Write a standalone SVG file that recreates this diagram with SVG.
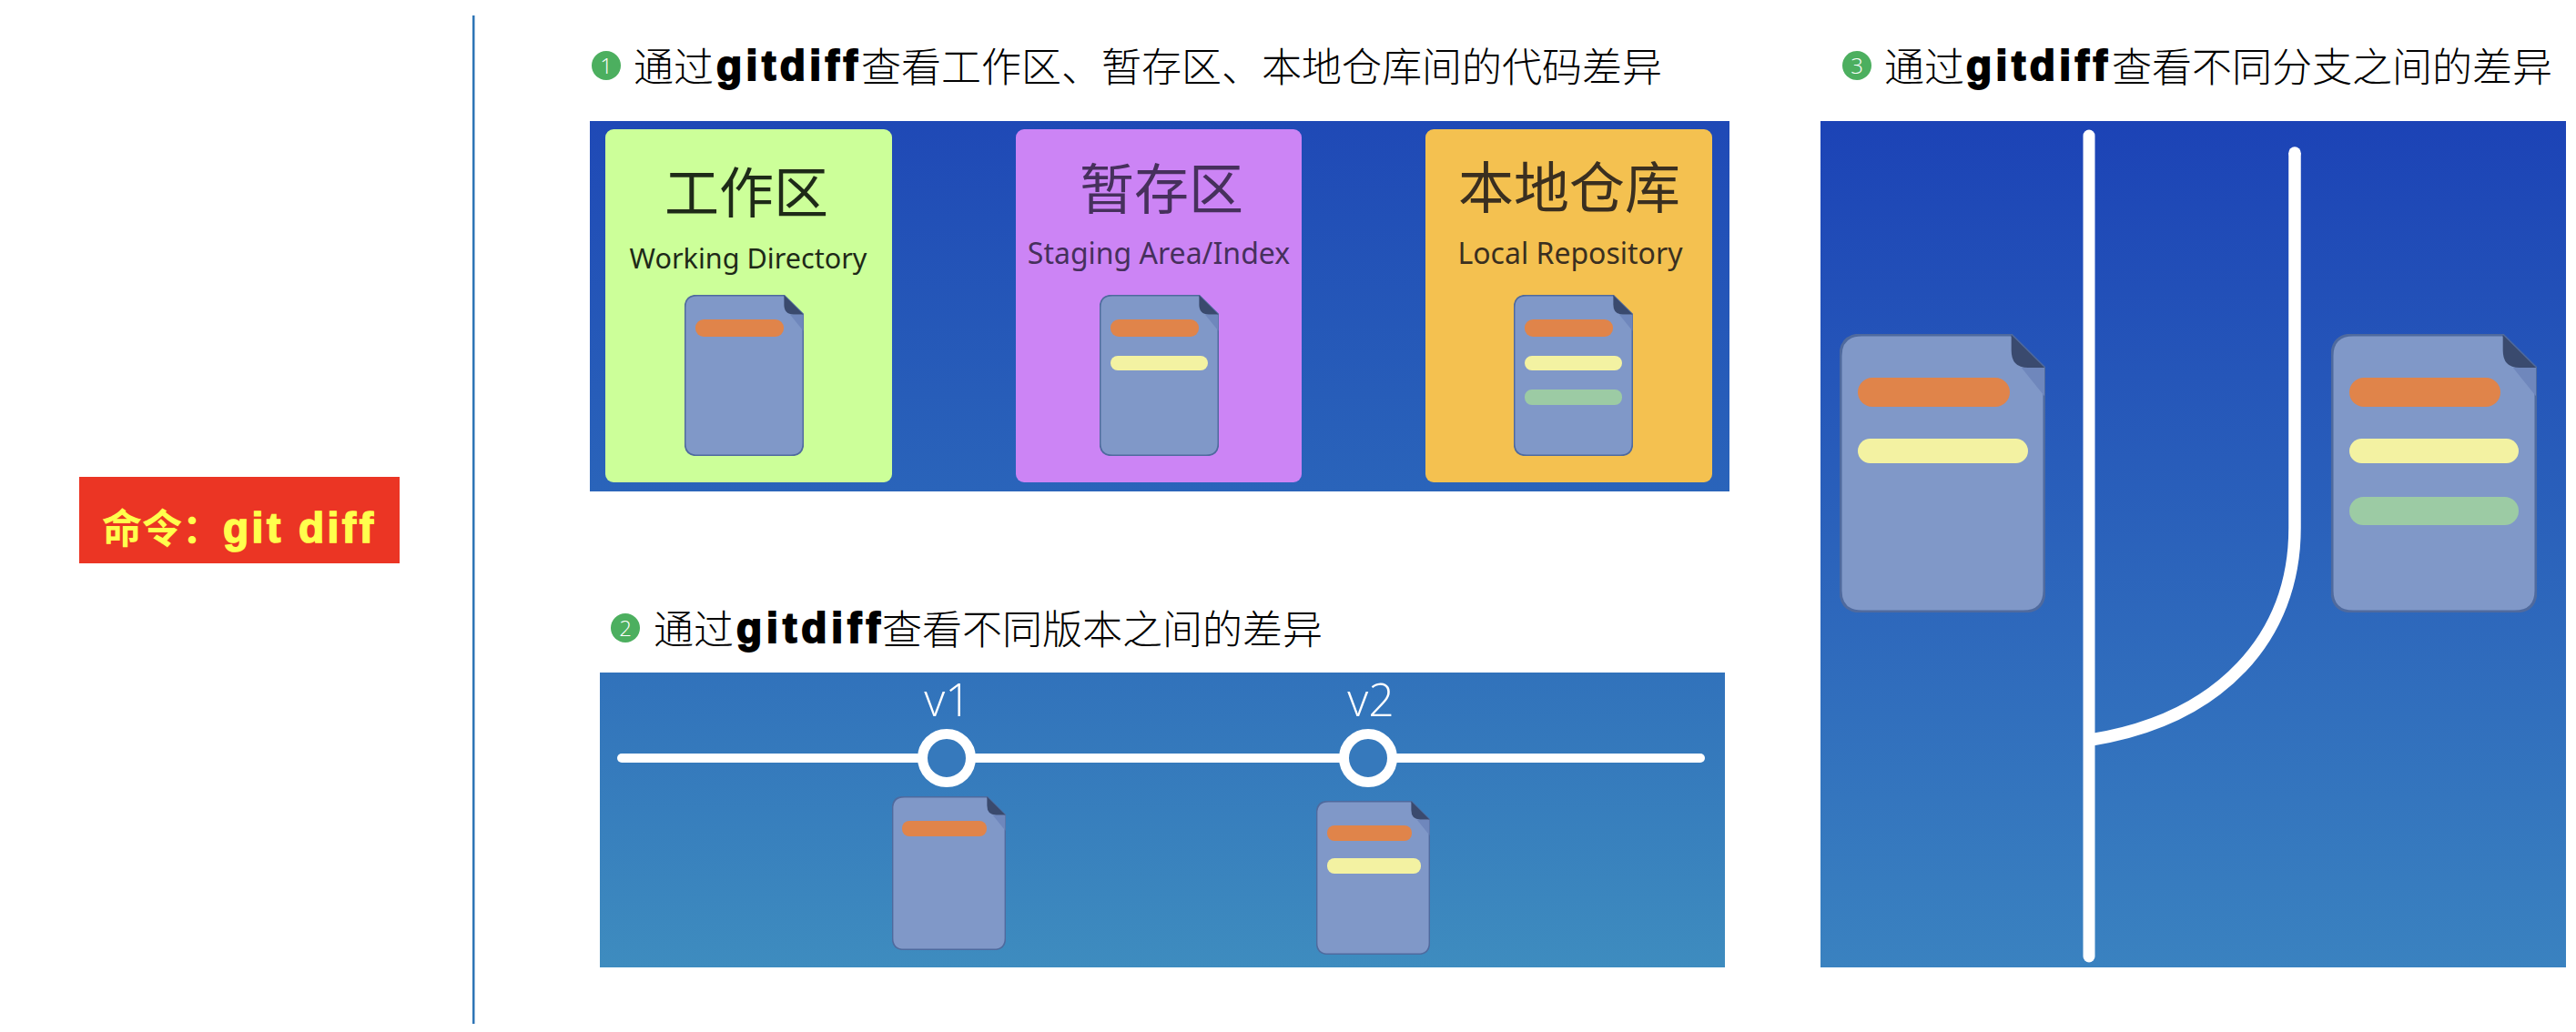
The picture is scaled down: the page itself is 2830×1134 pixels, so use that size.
<svg xmlns="http://www.w3.org/2000/svg" xmlns:xlink="http://www.w3.org/1999/xlink" width="2830" height="1134" viewBox="0 0 2830 1134">
<style>
.h{font-family:"Noto Sans CJK SC","Noto Sans",sans-serif;font-size:44px;font-weight:300;fill:#000}
.g{font-family:"Liberation Sans",sans-serif;font-size:46px;font-weight:700;letter-spacing:4.500px;stroke:#000;stroke-width:2px}
.n{font-family:"Open Sans","Noto Sans",sans-serif;font-size:24px;font-weight:300;fill:#fff;text-anchor:middle}
.dot{fill:#4CAF5F}
.t{font-family:"Noto Sans CJK SC","Noto Sans",sans-serif;font-size:60px;text-anchor:middle}
.s{font-family:"Noto Sans","Open Sans",sans-serif;font-size:32px;text-anchor:middle}
.v{font-family:"Open Sans","Noto Sans",sans-serif;font-size:50px;font-weight:300;fill:#fff;text-anchor:middle}
.o{fill:#E0844A}.y{fill:#F3F2A2}.k{fill:#9CCBA4}
.w{fill:none;stroke:#fff;stroke-linecap:round}
</style>
<defs>
<linearGradient id="g1" x1="0" y1="0" x2="0" y2="1"><stop offset="0" stop-color="#1F49B6"/><stop offset="1" stop-color="#2A64BA"/></linearGradient>
<linearGradient id="g2" x1="0" y1="0" x2="0" y2="1"><stop offset="0" stop-color="#3172BB"/><stop offset="1" stop-color="#3E8CBF"/></linearGradient>
<linearGradient id="g3" x1="0" y1="0" x2="0" y2="1"><stop offset="0" stop-color="#1C43B6"/><stop offset="1" stop-color="#3A82C0"/></linearGradient>
<symbol id="doc" viewBox="0 0 224 305" preserveAspectRatio="none">
<path d="M24 1H187L223 37V281Q223 304 200 304H24Q1 304 1 281V24Q1 1 24 1Z" fill="#8098C8" stroke="#4F6A9E" stroke-width="3"/>
<path d="M198 37H223V68Z" fill="#6F87BC"/>
<path d="M187 1L223 37H205Q187 37 187 18Z" fill="#3A4A6E"/>
</symbol>
</defs>
<rect width="2830" height="1134" fill="#fff"/>
<rect id="divider" x="519" y="17" width="2.5" height="1108" fill="#2E75B6"/>
<g id="command">
<rect x="87" y="524" width="352" height="95" fill="#EB3524"/>
<text x="112" y="597" font-family="'Noto Sans CJK SC',sans-serif" font-size="44" font-weight="700" fill="#FFFF4D">命令：</text>
<text x="245" y="596" font-family="'Liberation Sans',sans-serif" font-size="46" font-weight="700" letter-spacing="3.500" fill="#FFFF4D" stroke="#FFFF4D" stroke-width="1.600">git diff</text>
</g>
<g id="heading-1">
<circle class="dot" cx="666" cy="72" r="16"/><text class="n" x="666" y="81">1</text>
<text class="h" y="90"><tspan x="696">通过</tspan><tspan class="g" x="787" y="88">gitdiff</tspan><tspan x="946" y="90">查看工作区、暂存区、本地仓库间的代码差异</tspan></text>
</g>
<g id="panel-1">
<rect x="648" y="133" width="1252" height="407" fill="url(#g1)"/>
<g id="working-directory">
<rect x="665" y="142" width="315" height="388" rx="9" fill="#CCFF99"/>
<text class="t" x="820" y="234" fill="#1E2A18">工作区</text>
<text class="s" x="822" y="295" fill="#1E2A18" style="font-size:30.600px">Working Directory</text>
<use xlink:href="#doc" href="#doc" x="752" y="324" width="131" height="177"/>
<rect class="o" x="764" y="351" width="97" height="19" rx="9"/>
</g>
<g id="staging-area">
<rect x="1116" y="142" width="314" height="388" rx="9" fill="#CC84F5"/>
<text class="t" x="1276" y="230" fill="#46305C">暂存区</text>
<text class="s" x="1273" y="290" fill="#46305C">Staging Area/Index</text>
<use xlink:href="#doc" href="#doc" x="1208" y="324" width="131" height="177"/>
<rect class="o" x="1220" y="351" width="97" height="19" rx="9"/>
<rect class="y" x="1220" y="391" width="107" height="16" rx="8"/>
</g>
<g id="local-repository">
<rect x="1566" y="142" width="315" height="388" rx="9" fill="#F4C150"/>
<text class="t" x="1724" y="229" fill="#3A2F20" style="font-size:61px">本地仓库</text>
<text class="s" x="1725" y="290" fill="#3A2F20">Local Repository</text>
<use xlink:href="#doc" href="#doc" x="1663" y="324" width="131" height="177"/>
<rect class="o" x="1675" y="351" width="97" height="19" rx="9"/>
<rect class="y" x="1675" y="391" width="107" height="16" rx="8"/>
<rect class="k" x="1675" y="428" width="107" height="17" rx="8"/>
</g>
</g>
<g id="heading-2">
<circle class="dot" cx="687" cy="690" r="16"/><text class="n" x="687" y="699">2</text>
<text class="h" y="708"><tspan x="718">通过</tspan><tspan class="g" x="809" y="706" style="letter-spacing:5px">gitdiff</tspan><tspan x="969" y="708">查看不同版本之间的差异</tspan></text>
</g>
<g id="panel-2">
<rect x="659" y="739" width="1236" height="324" fill="url(#g2)"/>
<g id="timeline"><line class="w" x1="683" y1="833" x2="1868" y2="833" stroke-width="10"/></g>
<g id="v1">
<text class="v" x="1041" y="787">v1</text>
<circle cx="1040" cy="833" r="26.500" fill="#3679BC" stroke="#fff" stroke-width="11"/>
<use xlink:href="#doc" href="#doc" x="980" y="875" width="125" height="169"/>
<rect class="o" x="991" y="902" width="93" height="17" rx="8"/>
</g>
<g id="v2">
<text class="v" x="1506" y="787">v2</text>
<circle cx="1503" cy="833" r="26.500" fill="#3679BC" stroke="#fff" stroke-width="11"/>
<use xlink:href="#doc" href="#doc" x="1446" y="880" width="125" height="169"/>
<rect class="o" x="1458" y="907" width="93" height="17" rx="8"/>
<rect class="y" x="1458" y="943" width="103" height="17" rx="8"/>
</g>
</g>
<g id="heading-3">
<circle class="dot" cx="2040" cy="72" r="16"/><text class="n" x="2040" y="81">3</text>
<text class="h" y="90"><tspan x="2070">通过</tspan><tspan class="g" x="2160" y="88">gitdiff</tspan><tspan x="2320" y="90">查看不同分支之间的差异</tspan></text>
</g>
<g id="panel-3">
<rect x="2000" y="133" width="819" height="930" fill="url(#g3)"/>
<g id="branches">
<line class="w" x1="2295" y1="149" x2="2295" y2="1051" stroke-width="13"/>
<path class="w" style="stroke-linecap:butt" d="M2521 168V580C2521 700 2440 790 2297 813" stroke-width="13.500"/>
<circle cx="2521" cy="168" r="6.750" fill="#fff"/>
</g>
<g id="branch-doc-left">
<use xlink:href="#doc" href="#doc" x="2021" y="367" width="226" height="306"/>
<rect class="o" x="2041" y="415" width="167" height="32" rx="16"/>
<rect class="y" x="2041" y="482" width="187" height="27" rx="13.500"/>
</g>
<g id="branch-doc-right">
<use xlink:href="#doc" href="#doc" x="2561" y="367" width="226" height="306"/>
<rect class="o" x="2581" y="415" width="166" height="32" rx="16"/>
<rect class="y" x="2581" y="482" width="186" height="27" rx="13.500"/>
<rect class="k" x="2581" y="546" width="186" height="31" rx="15.500"/>
</g>
</g>
</svg>
